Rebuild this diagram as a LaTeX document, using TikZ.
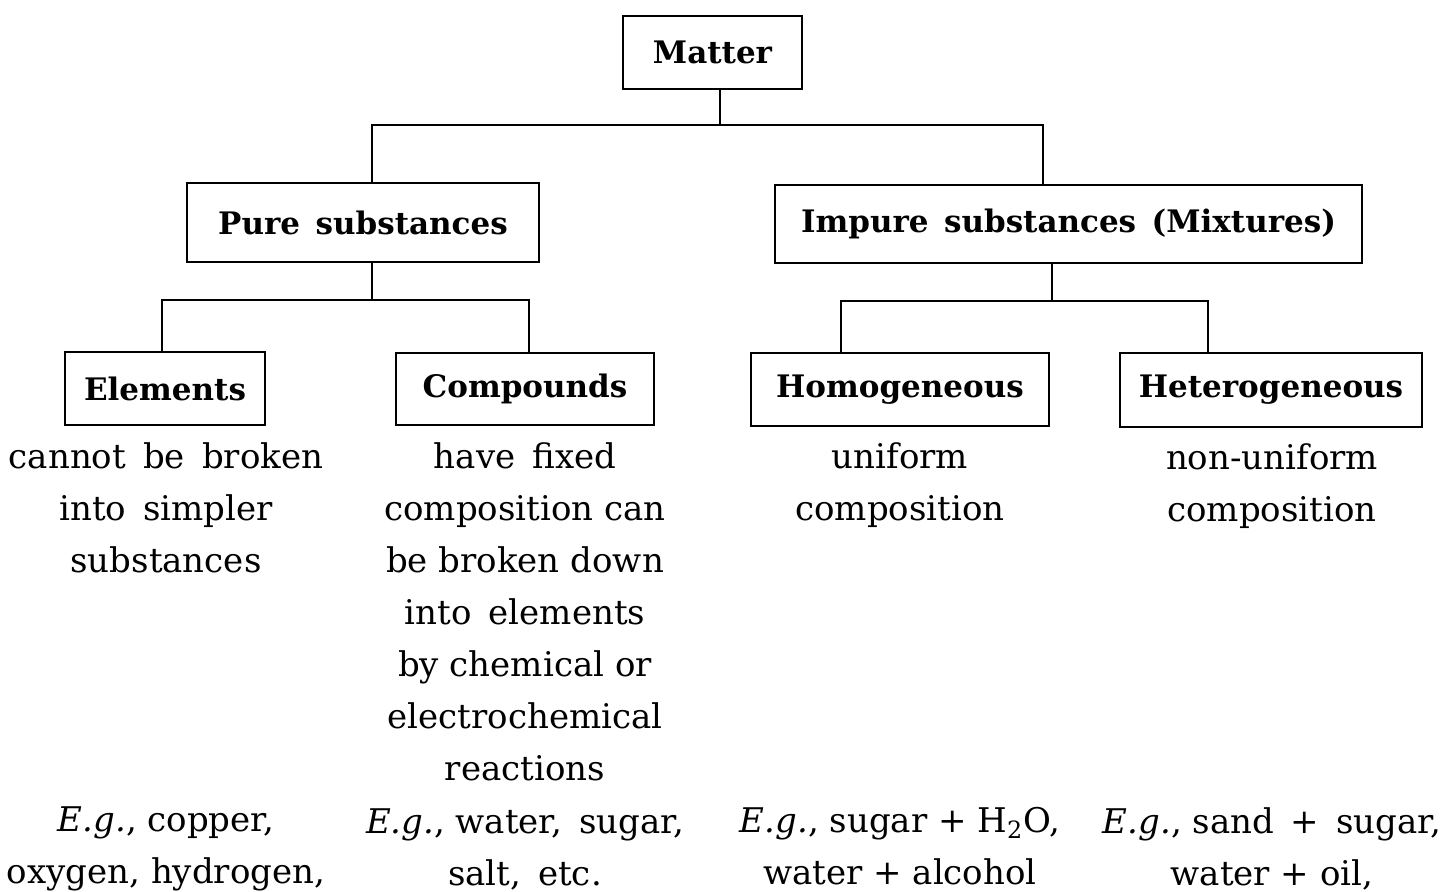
\documentclass[tikz,border=0pt]{standalone}
\usepackage{fontspec}
\setmainfont{DejaVu Serif}

\tikzset{
  box/.style={draw, line width=1.4pt, inner sep=0pt, font=\fontsize{15.5}{18}\selectfont\bfseries},
  desc/.style={align=center, inner sep=0pt, font=\fontsize{17}{26}\selectfont},
  link/.style={line width=1.2pt}
}
\newcommand{\wsp}{\hspace{0.5em}}

\begin{document}
\begin{tikzpicture}[x=0.5pt,y=0.5pt,yscale=-1,xscale=1]
        \useasboundingbox (0,0) rectangle (1440,891);

        % boxes
        \node[box, minimum width=89.5pt, minimum height=36.5pt] (matter) at (712.5,52.5) {Matter};
        \node[box, minimum width=176pt, minimum height=39.5pt] (pure) at (363,222.5) {Pure\wsp substances};
        \node[box, minimum width=293.5pt, minimum height=39pt] (impure) at (1068.5,224) {Impure\wsp substances\wsp (Mixtures)};
        \node[box, minimum width=100pt, minimum height=36.5pt] (elements) at (165,388.5) {Elements};
        \node[box, minimum width=129pt, minimum height=36pt] (compounds) at (525,389) {Compounds};
        \node[box, minimum width=149pt, minimum height=36.5pt] (homog) at (900,389.5) {Homogeneous};
        \node[box, minimum width=151pt, minimum height=37pt] (heterog) at (1271,390) {Heterogeneous};

        % junction points
        \coordinate (m0) at (720,125);
        \coordinate (b1l) at (372,125);
        \coordinate (b1r) at (1043,125);
        \coordinate (p0) at (372,300);
        \coordinate (pl) at (162,300);
        \coordinate (pr) at (529,300);
        \coordinate (i0) at (1052,301);
        \coordinate (il) at (841,301);
        \coordinate (ir) at (1208,301);

        % connectors
        \draw[link] (m0 |- matter.south) -- (m0);
        \draw[link] (b1l |- pure.north) -- (b1l) -- (b1r) -- (b1r |- impure.north);
        \draw[link] (p0 |- pure.south) -- (p0);
        \draw[link] (pl |- elements.north) -- (pl) -- (pr) -- (pr |- compounds.north);
        \draw[link] (i0 |- impure.south) -- (i0);
        \draw[link] (il |- homog.north) -- (il) -- (ir) -- (ir |- heterog.north);

        % descriptions
        \node[desc] (eltext) at (166,508) {cannot\wsp be\wsp broken\\into\wsp simpler\\substances};
        \node[desc] (cotext) at (525,612) {have\wsp fixed\\composition can\\be broken down\\into\wsp elements\\by chemical or\\electrochemical\\reactions};
        \node[desc] (hotext) at (900,485) {uniform\\composition};
        \node[desc] (hetext) at (1272,486) {non-uniform\\composition};

        % examples
        \node[desc] (elex) at (166,849) {\textit{E.g.}, copper,\\oxygen, hydrogen,};
        \node[desc] (coex) at (525,849) {\textit{E.g.}, water,\wsp sugar,\\salt,\wsp etc.};
        \node[desc] (hoex) at (900,846) {\textit{E.g.}, sugar + H\smash{\textsubscript{2}}O,\\water + alcohol};
        \node[desc] (heex) at (1272,849) {\textit{E.g.}, sand\wsp +\wsp sugar,\\water + oil,};
\end{tikzpicture}
\end{document}
